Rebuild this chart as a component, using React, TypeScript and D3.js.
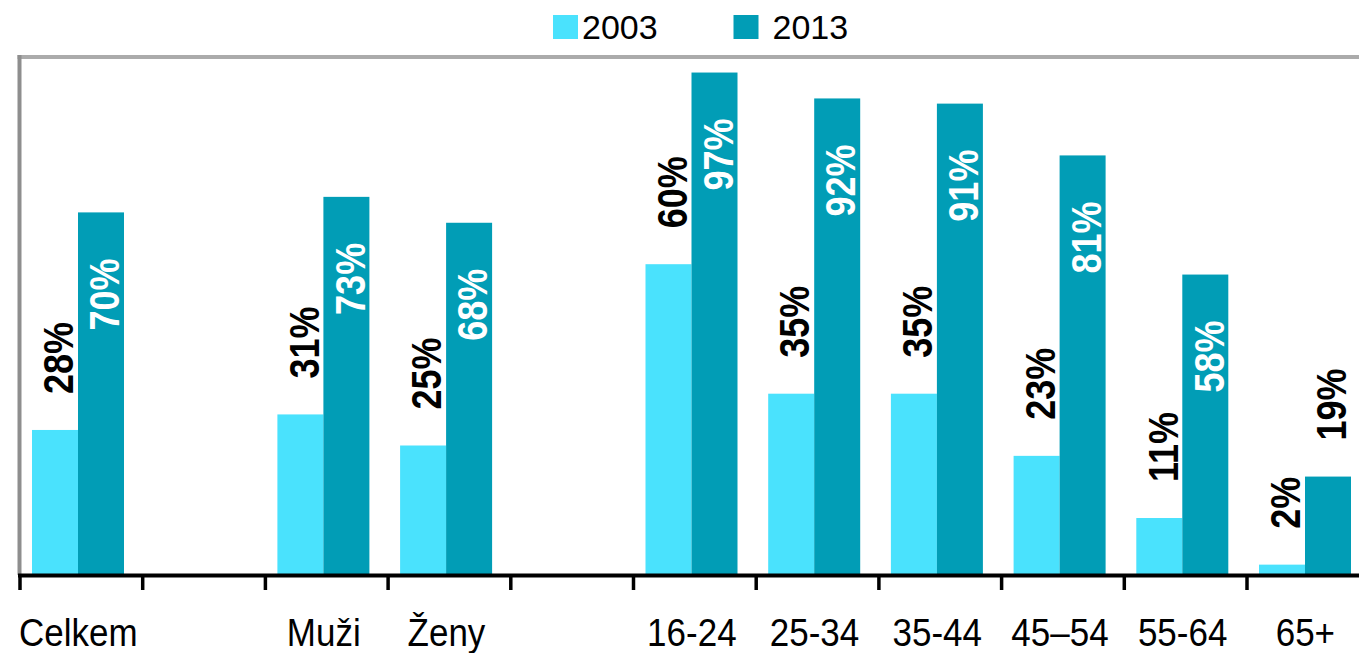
import * as d3 from 'd3'

const W = 1359
const H = 653

// empty strings are the blank slots between groups
const CATEGORIES = ['Celkem', '', 'Muži', 'Ženy', '', '16-24', '25-34', '35-44', '45–54', '55-64', '65+']
const SERIES = ['2003', '2013']
const VALUES_2003 = [28, null, 31, 25, null, 60, 35, 35, 23, 11, 2]
const VALUES_2013 = [70, null, 73, 68, null, 97, 92, 91, 81, 58, 19]

const COLORS: Record<string, string> = { '2003': '#4ae2fd', '2013': '#019db6' }

const PLOT = { left: 20, top: 57, bottom: 575, step: 122.7 }

export default function App() {
  const slots = CATEGORIES.map((_, i) => i)
  const x0 = d3
    .scaleBand<number>()
    .domain(slots)
    .range([PLOT.left, PLOT.left + PLOT.step * slots.length])
    .padding(0)
  const x1 = d3.scaleBand<string>().domain(SERIES).range([12, 104]).padding(0)
  const y = d3.scaleLinear().domain([0, 100]).range([PLOT.bottom, PLOT.top])

  const bars = slots.flatMap((i) =>
    SERIES.map((s) => {
      const v = s === '2003' ? VALUES_2003[i] : VALUES_2013[i]
      return { i, s, v }
    })
  ).filter((d) => d.v != null) as { i: number; s: string; v: number }[]

  const labelFont = 36
  const labelLen = (v: number) => `${v}%`.length * 0.6 * labelFont + 6

  const ticks = slots.map((i) => x0(i)!)

  return (
    <svg
      width={W}
      height={H}
      style={{ position: 'absolute', left: 0, top: 0, display: 'block', background: '#fff' }}
      fontFamily="'Liberation Sans', Arial, sans-serif"
    >
      {/* legend */}
      {SERIES.map((s, k) => {
        const lx = 553 + k * 180.5
        return (
          <g key={s}>
            <rect x={lx} y={15} width={25} height={24} fill={COLORS[s]} />
            <text x={lx + 29 + k * 10} y={38.5} fontSize={34} fill="#000">
              {s}
            </text>
          </g>
        )
      })}

      {/* frame */}
      <line x1={17.5} x2={W} y1={57} y2={57} stroke="#ababab" strokeWidth={4} />
      <line x1={19.5} x2={19.5} y1={55} y2={PLOT.bottom} stroke="#8e8e8e" strokeWidth={4} />

      {/* bars */}
      {bars.map((d) => (
        <rect
          key={`${d.s}-${d.i}`}
          x={x0(d.i)! + x1(d.s)!}
          y={y(d.v)}
          width={x1.bandwidth()}
          height={PLOT.bottom - y(d.v)}
          fill={COLORS[d.s]}
        />
      ))}

      {/* axis */}
      <line x1={18} x2={W} y1={575.5} y2={575.5} stroke="#000" strokeWidth={4} />
      {ticks.map((t, k) => (
        <line key={k} x1={t} x2={t} y1={575} y2={590} stroke="#000" strokeWidth={3.5} />
      ))}
      {CATEGORIES.map((c, i) =>
        c ? (
          <text
            key={c}
            transform={`translate(${x0(i)! + x0.bandwidth() / 2 - 3},646) scale(1,1.12)`}
            textAnchor="middle"
            fontSize={35}
            fill="#000"
          >
            {c}
          </text>
        ) : null
      )}

      {/* value labels */}
      {bars.map((d) => {
        const cx = x0(d.i)! + x1(d.s)! + x1.bandwidth() / 2 + 3
        const top = y(d.v)
        const inside = d.s === '2013' && PLOT.bottom - top > labelLen(d.v) + 60
        const ly = inside ? top + 46 : top - 36
        return (
          <text
            key={`l-${d.s}-${d.i}`}
            transform={`translate(${cx},${ly}) rotate(-90) scale(1,1.18)`}
            y={labelFont * 0.358}
            textAnchor={inside ? 'end' : 'start'}
            fontSize={labelFont}
            fontWeight="bold"
            fill={inside ? '#fff' : '#000'}
          >
            {`${d.v}%`}
          </text>
        )
      })}
    </svg>
  )
}
